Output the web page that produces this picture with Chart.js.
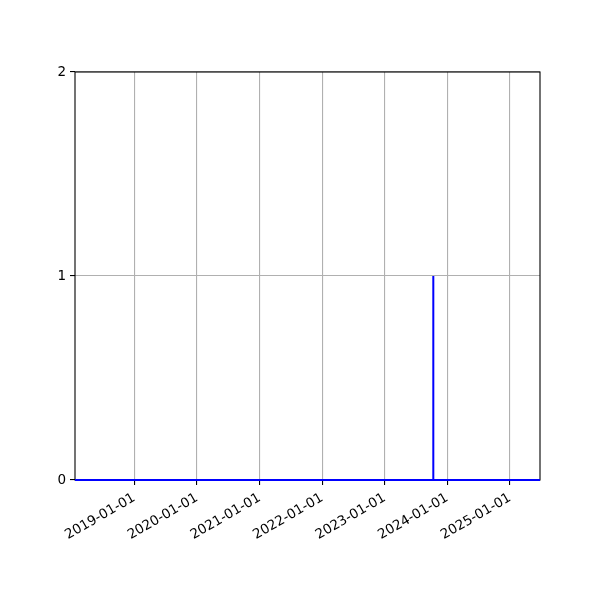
<!DOCTYPE html>
<html>
<head>
<meta charset="utf-8">
<script src="https://cdn.jsdelivr.net/npm/chart.js@4"></script>
<style>
  html, body { margin: 0; padding: 0; background: #fff; }
  #wrap { width: 600px; height: 600px; }
</style>
</head>
<body>
<div id="wrap"><canvas id="grafico" width="600" height="600"></canvas></div>
<script>
const datas   = ['2018-01-20', '2023-10-10', '2023-10-11', '2023-10-12', '2025-06-25'];
const valores = [0, 0, 1, 0, 0];
const rotulosX = ['2019-01-01', '2020-01-01', '2021-01-01', '2022-01-01', '2023-01-01', '2024-01-01', '2025-01-01'];
const rotulosY = [0, 1, 2];

const pontos = datas.map((d, i) => ({ x: Date.parse(d), y: valores[i] }));
const ticksX = rotulosX.map(d => Date.parse(d));

function formatarData(ms) {
    const d = new Date(ms);
    const m = String(d.getUTCMonth() + 1).padStart(2, '0');
    const dia = String(d.getUTCDate()).padStart(2, '0');
    return d.getUTCFullYear() + '-' + m + '-' + dia;
}

// moldura preta em volta da area do grafico (spines)
const moldura = {
    id: 'moldura',
    beforeDatasetsDraw(chart) {
        const a = chart.chartArea;
        const ctx = chart.ctx;
        ctx.save();
        ctx.strokeStyle = '#000';
        ctx.lineWidth = 1.1;
        ctx.strokeRect(a.left, a.top, a.right - a.left, a.bottom - a.top);
        ctx.restore();
    }
};

Chart.defaults.font.family = "'DejaVu Sans', sans-serif";
Chart.defaults.font.size = 13.5;
Chart.defaults.color = '#000';

new Chart(document.getElementById('grafico').getContext('2d'), {
    type: 'line',
    data: {
        datasets: [{
            data: pontos,
            borderColor: '#0000ff',
            borderWidth: 2,
            pointRadius: 0,
            tension: 0,
            fill: false,
            clip: false
        }]
    },
    options: {
        responsive: false,
        animation: false,
        plugins: {
            legend: { display: false },
            tooltip: { enabled: false }
        },
        layout: { padding: { top: 72, right: 60, left: 0, bottom: 0 } },
        scales: {
            x: {
                type: 'linear',
                min: Date.parse(datas[0]),
                max: Date.parse(datas[datas.length - 1]),
                afterBuildTicks(scale) {
                    scale.ticks = ticksX.map(v => ({ value: v }));
                },
                afterFit(scale) { scale.height = 120; },
                ticks: {
                    autoSkip: false,
                    minRotation: 30,
                    maxRotation: 30,
                    padding: 5,
                    callback: v => formatarData(v)
                },
                grid: {
                    color: '#b0b0b0',
                    lineWidth: 1.1,
                    tickColor: '#000',
                    tickLength: 5
                },
                border: { display: false }
            },
            y: {
                min: 0,
                max: 2,
                afterBuildTicks(scale) {
                    scale.ticks = rotulosY.map(v => ({ value: v }));
                },
                afterFit(scale) { scale.width = 75; },
                ticks: {
                    padding: 4,
                    callback: v => String(v)
                },
                grid: {
                    color: '#b0b0b0',
                    lineWidth: 1.1,
                    tickColor: '#000',
                    tickLength: 5
                },
                border: { display: false }
            }
        }
    },
    plugins: [moldura]
});
</script>
</body>
</html>
